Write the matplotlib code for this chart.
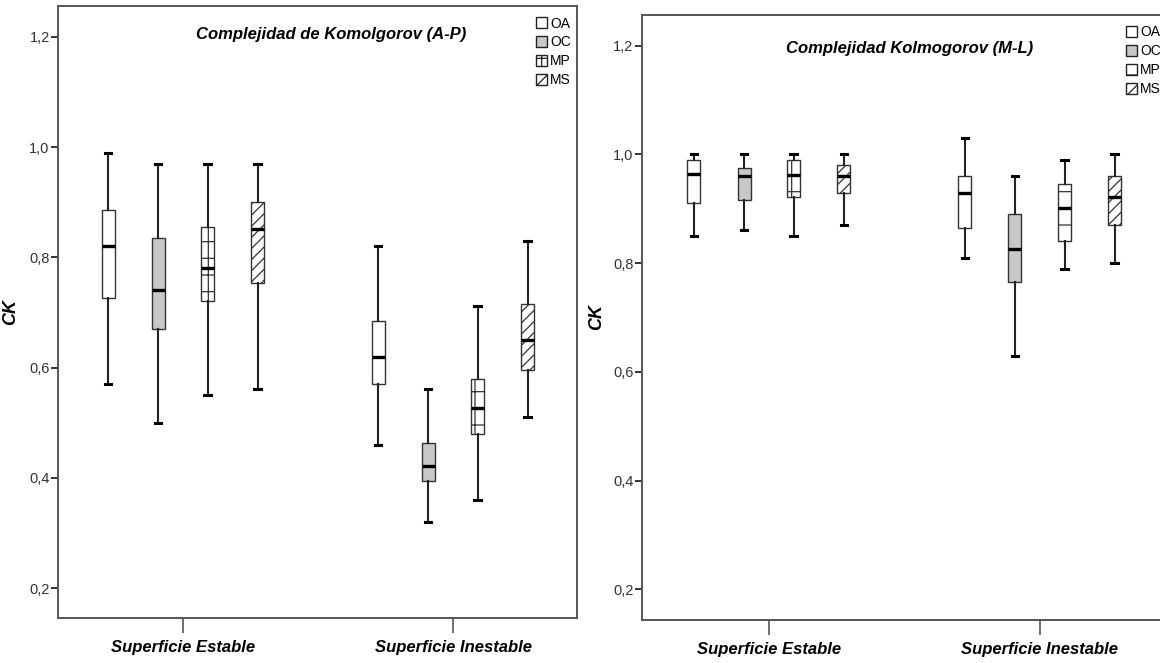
import matplotlib.pyplot as plt
from matplotlib.patches import Patch

plt.rcParams['font.family'] = ['Liberation Sans', 'DejaVu Sans']
plt.rcParams['hatch.linewidth'] = 0.9

surfaces = ['Superficie Estable', 'Superficie Inestable']
groups = ['OA', 'OC', 'MP', 'MS']

# Complejidad de Komolgorov (A-P), one row per surface, columns OA, OC, MP, MS
ap_whislo = [[0.571, 0.500, 0.550, 0.561], [0.460, 0.320, 0.360, 0.510]]
ap_q1 = [[0.726, 0.670, 0.720, 0.754], [0.570, 0.395, 0.480, 0.595]]
ap_med = [[0.821, 0.740, 0.781, 0.851], [0.620, 0.421, 0.526, 0.650]]
ap_q3 = [[0.886, 0.836, 0.855, 0.900], [0.685, 0.464, 0.580, 0.715]]
ap_whishi = [[0.990, 0.970, 0.970, 0.970], [0.820, 0.561, 0.711, 0.830]]

# Complejidad Kolmogorov (M-L)
ml_whislo = [[0.850, 0.861, 0.850, 0.870], [0.810, 0.630, 0.790, 0.800]]
ml_q1 = [[0.911, 0.916, 0.921, 0.930], [0.865, 0.765, 0.841, 0.870]]
ml_med = [[0.965, 0.960, 0.962, 0.960], [0.930, 0.826, 0.901, 0.921]]
ml_q3 = [[0.990, 0.976, 0.990, 0.981], [0.960, 0.890, 0.945, 0.960]]
ml_whishi = [[1.000, 1.000, 1.000, 1.000], [1.031, 0.960, 0.990, 1.000]]

yticks = [0.2, 0.4, 0.6, 0.8, 1.0, 1.2]

# look of each group
fills = ['white', '#c8c8c8', 'white', 'white']
hatches = ['', '', '+', '///']
offsets = [-0.277, -0.092, 0.091, 0.276]
dark = '#333333'


def draw_panel(ax, whislo, q1, med, q3, whishi, title, title_xy, xlim, ylim, ylab_x):
    stats = []
    pos = []
    for i in range(len(surfaces)):
        for j in range(len(groups)):
            stats.append(dict(whislo=whislo[i][j], q1=q1[i][j], med=med[i][j],
                              q3=q3[i][j], whishi=whishi[i][j], fliers=[]))
            pos.append(i + offsets[j])
    bp = ax.bxp(stats, positions=pos, widths=0.048, capwidths=0.024,
                patch_artist=True, showfliers=False,
                boxprops=dict(edgecolor=dark, linewidth=1.0),
                medianprops=dict(color='black', linewidth=2.4),
                whiskerprops=dict(color='#222222', linewidth=1.5),
                capprops=dict(color='black', linewidth=2.2))
    for k, box in enumerate(bp['boxes']):
        box.set_facecolor(fills[k % 4])
        box.set_hatch(hatches[k % 4])

    ax.set_xlim(xlim)
    ax.set_ylim(ylim)
    ax.set_yticks(yticks)
    ax.set_yticklabels([f'{v:.1f}'.replace('.', ',') for v in yticks],
                       fontsize=10.5, color=dark)
    ax.set_xticks(range(len(surfaces)))
    ax.set_xticklabels(surfaces, fontsize=12, fontweight='bold', style='italic')
    ax.tick_params(axis='x', length=11, width=1.2, color='#555555', pad=5)
    ax.tick_params(axis='y', length=5, width=1.4, color=dark, pad=1)
    for sp in ax.spines.values():
        sp.set_color('#555555')
        sp.set_linewidth(1.4)

    ax.set_ylabel('CK', fontsize=13, fontweight='bold', style='italic')
    ax.yaxis.set_label_coords(ylab_x, 0.5)
    ax.text(title_xy[0], title_xy[1], title, transform=ax.transAxes,
            ha='center', va='center', fontsize=12, fontweight='bold', style='italic')

    handles = [Patch(facecolor=fills[j], edgecolor='#222222', hatch=hatches[j], linewidth=1.0)
               for j in range(len(groups))]
    ax.legend(handles, groups, loc='upper right', bbox_to_anchor=(1.0, 0.993),
              fontsize=10, frameon=False,
              handlelength=0.8, handleheight=0.8, handletextpad=0.2,
              labelspacing=0.35, borderaxespad=0.15, borderpad=0.3)


fig = plt.figure(figsize=(11.6, 6.63), dpi=100)
ax1 = fig.add_axes([0.050, 0.0679, 0.4474, 0.9231])
ax2 = fig.add_axes([0.5534, 0.0649, 0.4526, 0.9125])

draw_panel(ax1, ap_whislo, ap_q1, ap_med, ap_q3, ap_whishi,
           'Complejidad de Komolgorov (A-P)', (0.526, 0.953),
           (-0.463, 1.459), (0.1456, 1.2563), -0.075)
draw_panel(ax2, ml_whislo, ml_q1, ml_med, ml_q3, ml_whishi,
           'Complejidad Kolmogorov (M-L)', (0.510, 0.945),
           (-0.469, 1.469), (0.1435, 1.2567), -0.070)

fig.savefig('out.png', dpi=100)
